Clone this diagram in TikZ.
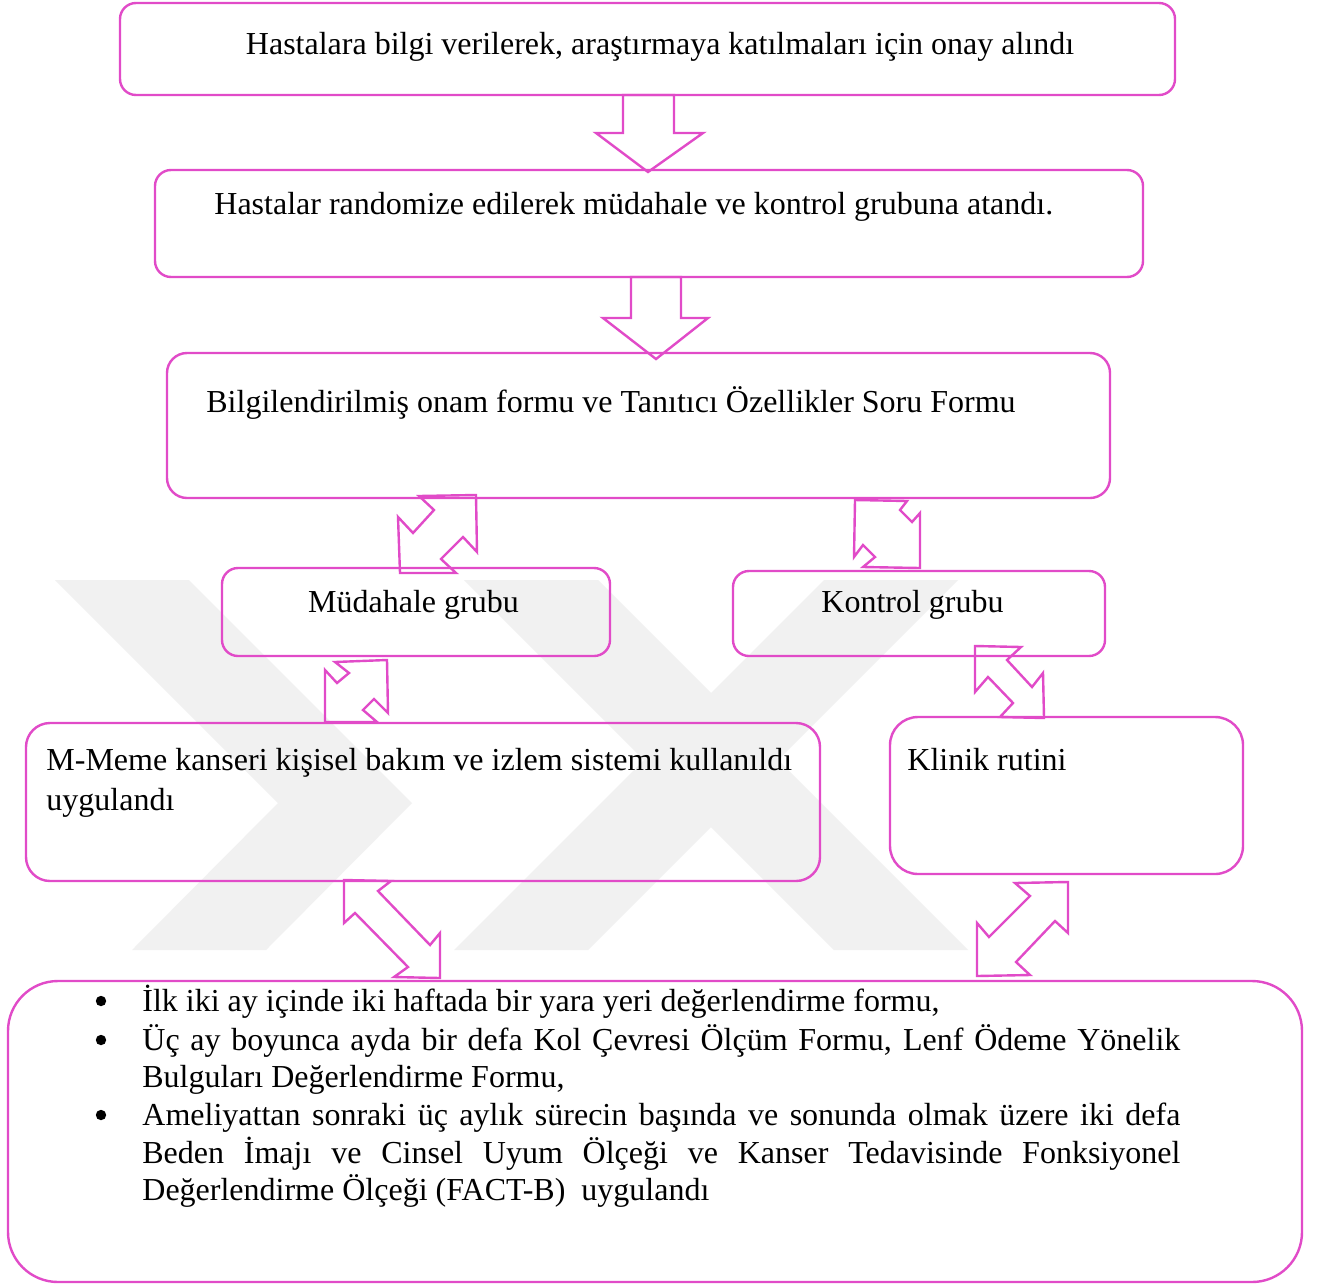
\documentclass[tikz,border=0pt]{standalone}
\usepackage{fontspec}
\setmainfont{Liberation Serif}
\definecolor{pinkline}{RGB}{225,75,200}
\definecolor{wmgray}{RGB}{241,241,241}
\begin{document}
\begin{tikzpicture}[x=0.5pt,y=-0.5pt,
  box/.style={draw=pinkline, line width=1.2pt, rounded corners=8pt, inner sep=0pt},
  blockarrow/.style={draw=pinkline, line width=1.2pt, line join=miter},
  txt/.style={inner sep=0pt, font=\fontsize{16}{19}\selectfont},
  bulletdot/.style={circle, fill=black, inner sep=0pt, minimum size=5.2pt},
  wm/.style={fill=wmgray, draw=none}]
\useasboundingbox (0,0) rectangle (1320,1284);
\fill[white] (0,0) rectangle (1320,1284);
% watermark
\fill[wm] (55,580) -- (189,580) -- (412,803) -- (266,950) -- (132,950) -- (278,803) -- cycle;
\fill[wm] (464,580) -- (598,580) -- (968,950) -- (834,950) -- cycle;
\fill[wm] (824,580) -- (958,580) -- (588,950) -- (454,950) -- cycle;
% boxes
\node[box, minimum width=527.5pt, minimum height=46pt] (b1) at (647.5,49) {};
\node[box, minimum width=494pt, minimum height=53.5pt] (b2) at (649,223.5) {};
\node[box, minimum width=471.5pt, minimum height=72.5pt, rounded corners=10pt] (b3) at (638.5,425.5) {};
\node[box, minimum width=194pt, minimum height=44pt] (b4) at (416,612) {};
\node[box, minimum width=186pt, minimum height=42.5pt] (b5) at (919,613.5) {};
\node[box, minimum width=397pt, minimum height=79pt, rounded corners=12pt] (b6) at (423,802) {};
\node[box, minimum width=176.5pt, minimum height=78.5pt, rounded corners=14pt] (b7) at (1066.5,795.5) {};
\node[box, minimum width=647pt, minimum height=150.5pt, rounded corners=25pt] (b8) at (655,1131.5) {};
% texts
\node[txt, anchor=base] (t1) at (660,55) {Hastalara bilgi verilerek, araştırmaya katılmaları için onay alındı};
\node[txt, anchor=base west] (t2) at (214,214) {Hastalar randomize edilerek müdahale ve kontrol grubuna atandı.};
\node[txt, anchor=base west] (t3) at (206,412) {Bilgilendirilmiş onam formu ve Tanıtıcı Özellikler Soru Formu};
\node[txt, anchor=base] (t4) at (413.5,612) {Müdahale grubu};
\node[txt, anchor=base] (t5) at (912.5,612) {Kontrol grubu};
\node[txt, anchor=base west] (t6a) at (46,770) {M-Meme kanseri kişisel bakım ve izlem sistemi kullanıldı};
\node[txt, anchor=base west] (t6b) at (46,810) {uygulandı};
\node[txt, anchor=base west] (t7) at (907,770) {Klinik rutini};
% list
\node[bulletdot] (bu1) at (101,1001) {};
\node[bulletdot] (bu2) at (101,1040) {};
\node[bulletdot] (bu3) at (101,1115) {};
\node[txt, anchor=base west] (l1) at (142,1011) {İlk iki ay içinde iki haftada bir yara yeri değerlendirme formu,};
\node[txt, anchor=base west] (l2) at (142,1050) {\makebox[519pt][s]{Üç ay boyunca ayda bir defa Kol Çevresi Ölçüm Formu, Lenf Ödeme Yönelik}};
\node[txt, anchor=base west] (l3) at (142,1087) {Bulguları Değerlendirme Formu,};
\node[txt, anchor=base west] (l4) at (142,1125) {\makebox[519pt][s]{Ameliyattan sonraki üç aylık sürecin başında ve sonunda olmak üzere iki defa}};
\node[txt, anchor=base west] (l5) at (142,1163) {\makebox[519pt][s]{Beden İmajı ve Cinsel Uyum Ölçeği ve Kanser Tedavisinde Fonksiyonel}};
\node[txt, anchor=base west] (l6) at (142,1200) {Değerlendirme Ölçeği (FACT-B)\ \ uygulandı};
% down block arrows
\draw[blockarrow] (623,95) -- (623,133) -- (596,133) -- (648,172) -- (703,133) -- (674,133) -- (674,95) -- cycle;
\draw[blockarrow] (631,277) -- (631,318) -- (603,318) -- (656,359) -- (708,318) -- (681,318) -- (681,277) -- cycle;
% double block arrows
\draw[blockarrow] (476,495) -- (477,552) -- (463,537) -- (441,559) -- (456,573) -- (400,573) -- (398,517) -- (413,533) -- (434,510) -- (419,496) -- cycle;
\draw[blockarrow] (855,500) -- (907,501) -- (900,510) -- (912,522) -- (920,513) -- (920,568) -- (863,567) -- (875,557) -- (863,545) -- (854,557) -- cycle;
\draw[blockarrow] (387,660) -- (388,713) -- (374,699) -- (363,710) -- (377,722) -- (325,722) -- (325,670) -- (337,683) -- (349,673) -- (335,662) -- cycle;
\draw[blockarrow] (975,646) -- (1021,647) -- (1007,660) -- (1032,687) -- (1043,673) -- (1044,718) -- (1000,717) -- (1013,703) -- (988,677) -- (975,692) -- cycle;
\draw[blockarrow] (344,880) -- (391,881) -- (378,891) -- (430,945) -- (440,933) -- (440,978) -- (394,977) -- (408,967) -- (355,913) -- (344,923) -- cycle;
\draw[blockarrow] (1068,882) -- (1015,883) -- (1030,896) -- (989,937) -- (977,923) -- (977,976) -- (1030,975) -- (1016,962) -- (1055,921) -- (1068,933) -- cycle;
\end{tikzpicture}
\end{document}
